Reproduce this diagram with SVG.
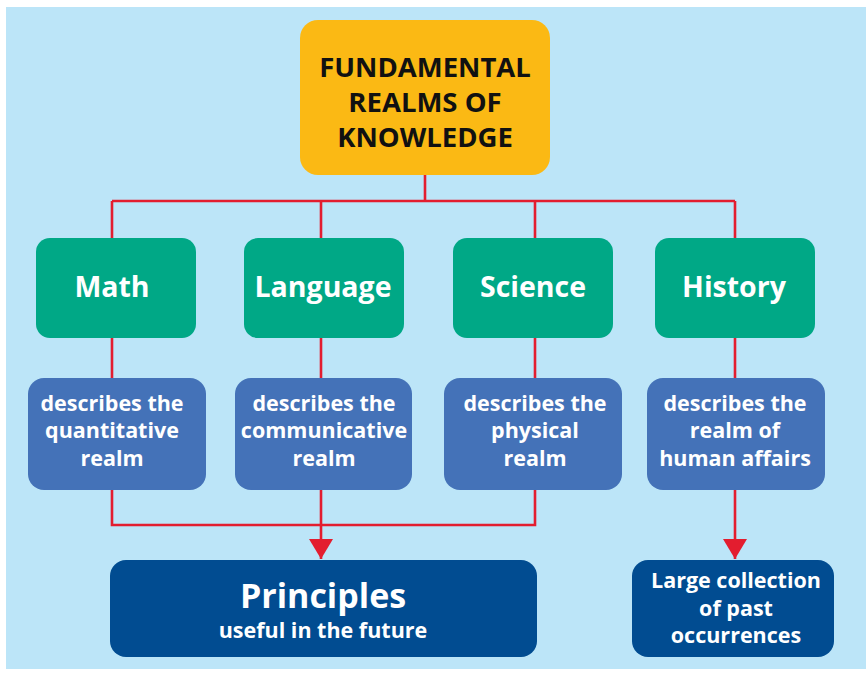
<svg xmlns="http://www.w3.org/2000/svg" width="866" height="673" viewBox="0 0 866 673">
  <defs>
    <style>
      .t { font-family: "Open Sans", "Liberation Sans", sans-serif; font-weight: 700; text-anchor: middle; }
      .title { fill: #111; font-size: 27.5px; }
      .realm { fill: #fff; font-size: 28.5px; }
      .desc { fill: #fff; font-size: 21.5px; }
      .out { fill: #fff; font-size: 21.5px; }
      .big { fill: #fff; font-size: 34px; }
      .link { fill: none; stroke: #e31d2f; stroke-width: 2.6; }
    </style>
    <marker id="arrow" viewBox="0 0 20 24" refX="20" refY="12" markerWidth="20" markerHeight="24" markerUnits="userSpaceOnUse" orient="auto">
      <path d="M0,0 L20,12 L0,24 Z" fill="#e31d2f"/>
    </marker>
  </defs>

  <!-- backdrop -->
  <rect x="6" y="7" width="860" height="662" fill="#bce5f8"/>

  <!-- connectors -->
  <g id="connectors">
    <path class="link" d="M425,175 V201 M112,201 H735 M112,201 V238 M321,201 V238 M535,201 V238 M735,201 V238"/>
    <path class="link" d="M112,338 V378 M321,338 V378 M535,338 V378 M735,338 V378"/>
    <path class="link" d="M112,490 V525 H535 V490"/>
    <path class="link" d="M321,490 V559" marker-end="url(#arrow)"/>
    <path class="link" d="M735,490 V559" marker-end="url(#arrow)"/>
  </g>

  <!-- root -->
  <g id="root">
    <rect x="300" y="20" width="250" height="155" rx="18" fill="#fbb914"/>
    <text class="t title" x="425" y="77">FUNDAMENTAL</text>
    <text class="t title" x="425" y="112">REALMS OF</text>
    <text class="t title" x="425" y="147">KNOWLEDGE</text>
  </g>

  <!-- realms -->
  <g id="math">
    <rect x="36" y="238" width="160" height="100" rx="14" fill="#00a886"/>
    <text class="t realm" x="112" y="297">Math</text>
  </g>
  <g id="language">
    <rect x="244" y="238" width="160" height="100" rx="14" fill="#00a886"/>
    <text class="t realm" x="323" y="297">Language</text>
  </g>
  <g id="science">
    <rect x="453" y="238" width="160" height="100" rx="14" fill="#00a886"/>
    <text class="t realm" x="533" y="297">Science</text>
  </g>
  <g id="history">
    <rect x="655" y="238" width="160" height="100" rx="14" fill="#00a886"/>
    <text class="t realm" x="734" y="297">History</text>
  </g>

  <!-- descriptions -->
  <g id="desc-math">
    <rect x="28" y="378" width="178" height="112" rx="16" fill="#4472b8"/>
    <text class="t desc" x="112" y="411">describes the</text>
    <text class="t desc" x="112" y="438">quantitative</text>
    <text class="t desc" x="112" y="466">realm</text>
  </g>
  <g id="desc-language">
    <rect x="235" y="378" width="177" height="112" rx="16" fill="#4472b8"/>
    <text class="t desc" x="324" y="411">describes the</text>
    <text class="t desc" x="324" y="438">communicative</text>
    <text class="t desc" x="324" y="466">realm</text>
  </g>
  <g id="desc-science">
    <rect x="444" y="378" width="178" height="112" rx="16" fill="#4472b8"/>
    <text class="t desc" x="535" y="411">describes the</text>
    <text class="t desc" x="535" y="438">physical</text>
    <text class="t desc" x="535" y="466">realm</text>
  </g>
  <g id="desc-history">
    <rect x="647" y="378" width="178" height="112" rx="16" fill="#4472b8"/>
    <text class="t desc" x="735" y="411">describes the</text>
    <text class="t desc" x="735" y="438">realm of</text>
    <text class="t desc" x="735" y="466">human affairs</text>
  </g>

  <!-- outcomes -->
  <g id="principles">
    <rect x="110" y="560" width="427" height="97" rx="16" fill="#014c91"/>
    <text class="t big" x="323" y="608">Principles</text>
    <text class="t out" x="323" y="638">useful in the future</text>
  </g>
  <g id="past">
    <rect x="632" y="560" width="202" height="97" rx="16" fill="#014c91"/>
    <text class="t out" x="736" y="588">Large collection</text>
    <text class="t out" x="736" y="616">of past</text>
    <text class="t out" x="736" y="643">occurrences</text>
  </g>
</svg>
